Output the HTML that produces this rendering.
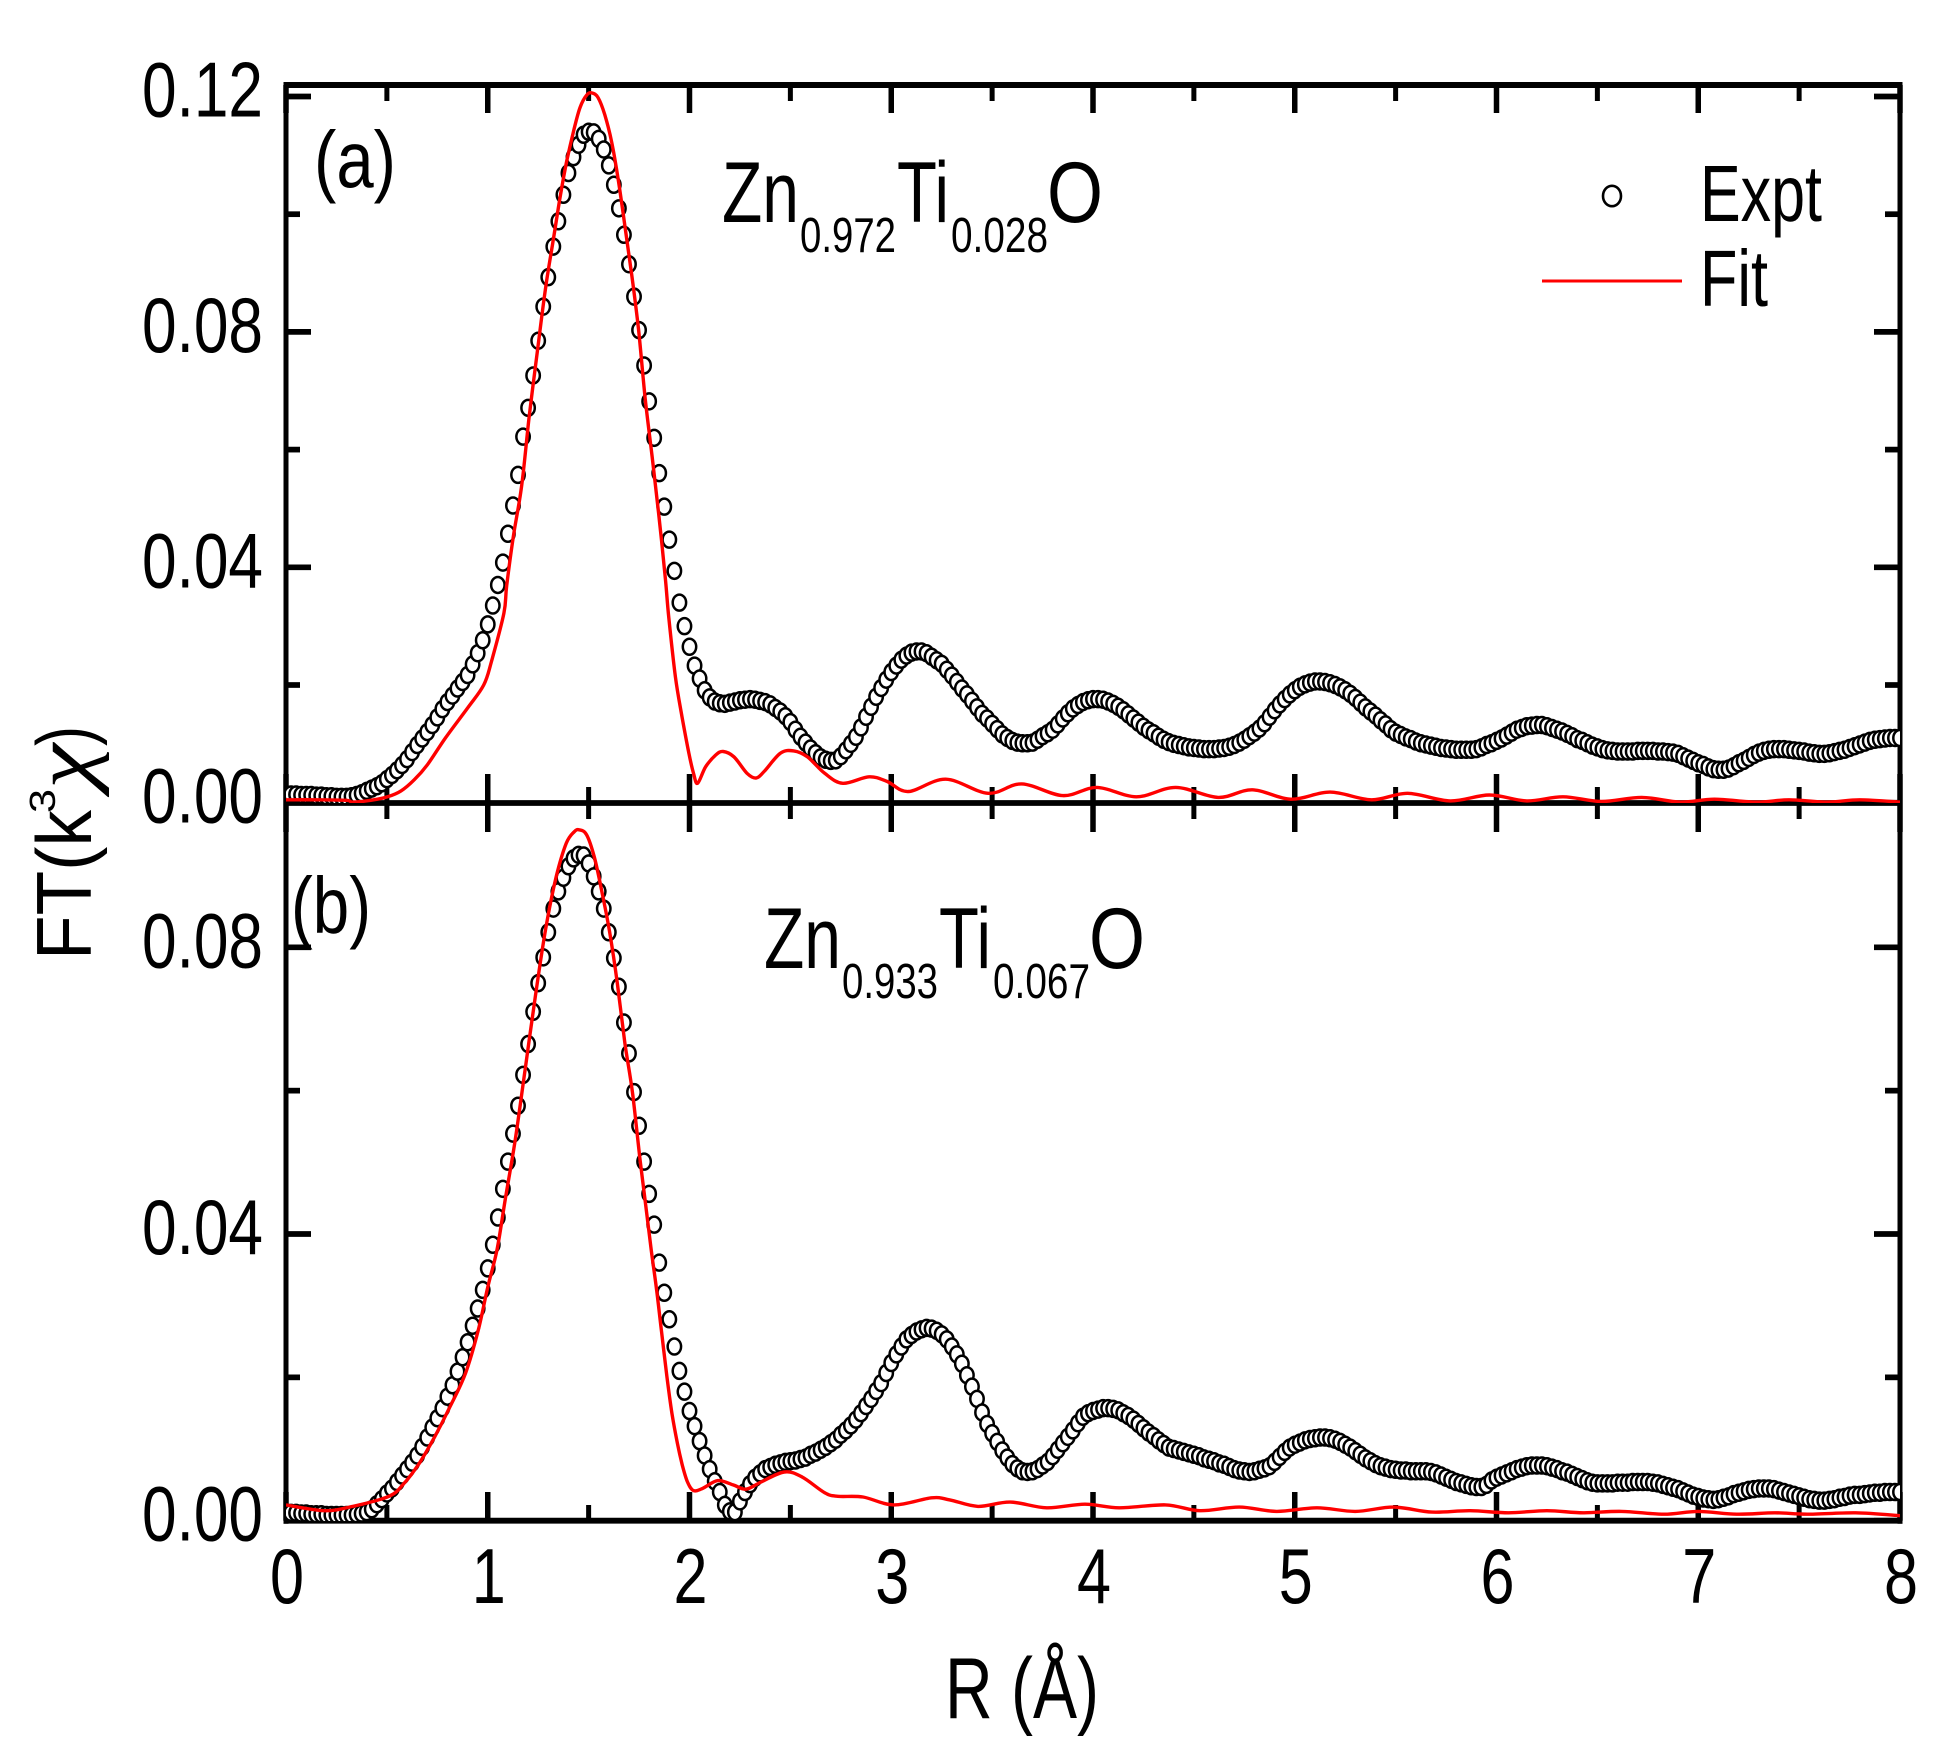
<!DOCTYPE html>
<html lang="en">
<head>
<meta charset="utf-8">
<title>FT(k3χ) vs R for Zn-Ti-O samples</title>
<style>
html,body{margin:0;padding:0;background:#fff;}
svg{display:block;}
text{font-family:"Liberation Sans",Arial,sans-serif;fill:#000;}
</style>
</head>
<body>
<svg id="chart" xmlns="http://www.w3.org/2000/svg" width="1957" height="1756" viewBox="0 0 1957 1756">
  <defs>
    <clipPath id="clip-a"><rect x="286" y="85" width="1614" height="718"/></clipPath>
    <clipPath id="clip-b"><rect x="286" y="803" width="1614" height="718"/></clipPath>
  </defs>
  <rect x="0" y="0" width="1957" height="1756" fill="#fff"/>
  <g id="axes"></g>
  <g id="series-a" clip-path="url(#clip-a)"></g>
  <g id="series-b" clip-path="url(#clip-b)"></g>
  <g id="labels"></g>

  <text x="314" y="187" font-size="80" textLength="82" lengthAdjust="spacingAndGlyphs">(a)</text>
  <text x="291" y="933" font-size="80" textLength="80" lengthAdjust="spacingAndGlyphs">(b)</text>

  <g>
    <text x="722" y="222" font-size="86" textLength="77" lengthAdjust="spacingAndGlyphs">Zn</text>
    <text x="800" y="252" font-size="49" textLength="96" lengthAdjust="spacingAndGlyphs">0.972</text>
    <text x="897" y="222" font-size="86" textLength="52" lengthAdjust="spacingAndGlyphs">Ti</text>
    <text x="951" y="252" font-size="49" textLength="97" lengthAdjust="spacingAndGlyphs">0.028</text>
    <text x="1047" y="222" font-size="86" textLength="56" lengthAdjust="spacingAndGlyphs">O</text>
  </g>
  <g>
    <text x="764" y="968" font-size="86" textLength="77" lengthAdjust="spacingAndGlyphs">Zn</text>
    <text x="842" y="998" font-size="49" textLength="96" lengthAdjust="spacingAndGlyphs">0.933</text>
    <text x="939" y="968" font-size="86" textLength="52" lengthAdjust="spacingAndGlyphs">Ti</text>
    <text x="993" y="998" font-size="49" textLength="97" lengthAdjust="spacingAndGlyphs">0.067</text>
    <text x="1089" y="968" font-size="86" textLength="56" lengthAdjust="spacingAndGlyphs">O</text>
  </g>

  <g>
    <ellipse cx="1612" cy="196" rx="9" ry="10.2" fill="#fff" stroke="#000" stroke-width="2.6"/>
    <text x="1700" y="221" font-size="80" textLength="122" lengthAdjust="spacingAndGlyphs">Expt</text>
    <line x1="1542" y1="281" x2="1682" y2="281" stroke="#f00" stroke-width="3"/>
    <text x="1700" y="306" font-size="80" textLength="68" lengthAdjust="spacingAndGlyphs">Fit</text>
  </g>

  <text x="945" y="1718" font-size="86" textLength="154" lengthAdjust="spacingAndGlyphs">R (Å)</text>

  <g transform="translate(91,960) rotate(-90)">
    <text x="0" y="0" font-size="78" textLength="150" lengthAdjust="spacingAndGlyphs">FT(k</text>
    <text x="147" y="-36" font-size="36" textLength="24" lengthAdjust="spacingAndGlyphs">3</text>
    <text x="171" y="0" font-size="84" textLength="45" lengthAdjust="spacingAndGlyphs" style="font-family:'Liberation Serif',serif;font-style:italic">χ</text>
    <text x="214" y="0" font-size="78" textLength="20" lengthAdjust="spacingAndGlyphs">)</text>
  </g>
</svg>
<script>
// ---------- data ----------
const xStep = 0.025;

const xMajorTicks = [0, 1, 2, 3, 4, 5, 6, 7, 8];
const xMinorTicks = [0.5, 1.5, 2.5, 3.5, 4.5, 5.5, 6.5, 7.5];
const xTickLabels = ["0", "1", "2", "3", "4", "5", "6", "7", "8"];

const yMajorTicksA = [0, 0.04, 0.08, 0.12];
const yMinorTicksA = [0.02, 0.06, 0.10];
const yTickLabelsA = ["0.00", "0.04", "0.08", "0.12"];

const yMajorTicksB = [0, 0.04, 0.08];
const yMinorTicksB = [0.02, 0.06];
const yTickLabelsB = ["0.00", "0.04", "0.08"];

const exptA = [
0.0014,0.0014,0.0014,0.0013,0.0013,0.0013,0.0012,0.0012,0.0011,0.0011,0.0010,0.0010,0.0010,0.0011,0.0013,0.0016,0.0020,0.0024,0.0028,0.0033,0.0040,0.0047,0.0055,0.0064,0.0074,0.0086,0.0098,0.0109,0.0120,0.0132,0.0145,0.0159,0.0171,0.0182,0.0194,0.0205,0.0217,0.0235,0.0254,0.0276,
0.0303,0.0335,0.0370,0.0408,0.0457,0.0505,0.0557,0.0622,0.0671,0.0726,0.0785,0.0843,0.0893,0.0945,0.0988,0.1033,0.1070,0.1097,0.1118,0.1135,0.1140,0.1139,0.1128,0.1110,0.1083,0.1050,0.1010,0.0965,0.0915,0.0860,0.0803,0.0743,0.0682,0.0620,0.0560,0.0503,0.0447,0.0394,0.0340,0.0300,
0.0265,0.0233,0.0211,0.0191,0.0179,0.0172,0.0169,0.0168,0.0170,0.0172,0.0174,0.0175,0.0176,0.0175,0.0173,0.0171,0.0167,0.0161,0.0155,0.0147,0.0137,0.0124,0.0112,0.0102,0.0092,0.0084,0.0077,0.0073,0.0071,0.0072,0.0079,0.0089,0.0100,0.0112,0.0128,0.0146,0.0163,0.0180,0.0195,0.0209,
0.0222,0.0233,0.0243,0.0250,0.0255,0.0257,0.0257,0.0254,0.0248,0.0242,0.0236,0.0226,0.0216,0.0205,0.0194,0.0184,0.0173,0.0162,0.0151,0.0143,0.0134,0.0125,0.0116,0.0110,0.0105,0.0102,0.0101,0.0101,0.0102,0.0107,0.0113,0.0118,0.0124,0.0133,0.0143,0.0152,0.0160,0.0166,0.0171,0.0174,
0.0176,0.0176,0.0175,0.0172,0.0168,0.0163,0.0157,0.0150,0.0143,0.0136,0.0129,0.0123,0.0118,0.0112,0.0107,0.0103,0.0100,0.0098,0.0096,0.0094,0.0093,0.0092,0.0091,0.0091,0.0091,0.0092,0.0093,0.0095,0.0098,0.0102,0.0107,0.0113,0.0119,0.0126,0.0135,0.0146,0.0157,0.0167,0.0176,0.0184,
0.0191,0.0197,0.0201,0.0204,0.0206,0.0206,0.0205,0.0203,0.0200,0.0196,0.0191,0.0185,0.0178,0.0170,0.0162,0.0155,0.0148,0.0140,0.0133,0.0125,0.0119,0.0115,0.0111,0.0108,0.0104,0.0101,0.0099,0.0097,0.0095,0.0093,0.0092,0.0091,0.0090,0.0090,0.0090,0.0090,0.0091,0.0094,0.0098,0.0101,
0.0105,0.0109,0.0114,0.0119,0.0124,0.0127,0.0130,0.0131,0.0132,0.0132,0.0130,0.0127,0.0124,0.0121,0.0117,0.0113,0.0108,0.0105,0.0101,0.0097,0.0094,0.0091,0.0089,0.0088,0.0087,0.0087,0.0087,0.0087,0.0088,0.0088,0.0088,0.0088,0.0087,0.0087,0.0086,0.0085,0.0083,0.0079,0.0075,0.0071,
0.0067,0.0064,0.0060,0.0057,0.0056,0.0056,0.0058,0.0062,0.0067,0.0071,0.0076,0.0081,0.0085,0.0088,0.0090,0.0091,0.0091,0.0091,0.0090,0.0089,0.0088,0.0087,0.0085,0.0084,0.0083,0.0083,0.0084,0.0086,0.0088,0.0090,0.0093,0.0096,0.0099,0.0102,0.0105,0.0107,0.0108,0.0109,0.0110,0.0110,
0.0110];

const exptB = [
0.0011,0.0011,0.0011,0.0010,0.0010,0.0009,0.0009,0.0009,0.0008,0.0008,0.0008,0.0008,0.0008,0.0008,0.0009,0.0010,0.0012,0.0016,0.0023,0.0030,0.0038,0.0045,0.0054,0.0063,0.0072,0.0081,0.0091,0.0103,0.0116,0.0130,0.0143,0.0157,0.0173,0.0189,0.0208,0.0228,0.0249,0.0272,0.0296,0.0322,
0.0352,0.0385,0.0423,0.0463,0.0501,0.0540,0.0579,0.0622,0.0665,0.0710,0.0750,0.0786,0.0821,0.0854,0.0878,0.0897,0.0913,0.0924,0.0929,0.0928,0.0917,0.0899,0.0878,0.0854,0.0821,0.0785,0.0745,0.0695,0.0652,0.0598,0.0551,0.0501,0.0456,0.0413,0.0360,0.0318,0.0281,0.0243,0.0209,0.0180,
0.0153,0.0132,0.0111,0.0091,0.0072,0.0055,0.0040,0.0022,0.0013,0.0012,0.0027,0.0040,0.0051,0.0060,0.0066,0.0072,0.0075,0.0078,0.0080,0.0082,0.0083,0.0084,0.0086,0.0088,0.0092,0.0095,0.0099,0.0103,0.0108,0.0113,0.0120,0.0126,0.0133,0.0141,0.0150,0.0160,0.0170,0.0181,0.0192,0.0206,
0.0220,0.0232,0.0243,0.0253,0.0259,0.0264,0.0267,0.0269,0.0268,0.0265,0.0260,0.0253,0.0243,0.0232,0.0219,0.0203,0.0187,0.0170,0.0151,0.0135,0.0122,0.0110,0.0098,0.0088,0.0079,0.0073,0.0069,0.0068,0.0069,0.0072,0.0077,0.0082,0.0090,0.0099,0.0108,0.0117,0.0126,0.0136,0.0145,0.0150,
0.0153,0.0155,0.0157,0.0157,0.0156,0.0154,0.0150,0.0146,0.0141,0.0135,0.0129,0.0123,0.0118,0.0112,0.0107,0.0102,0.0100,0.0098,0.0096,0.0094,0.0092,0.0090,0.0087,0.0085,0.0083,0.0080,0.0078,0.0075,0.0072,0.0070,0.0069,0.0068,0.0069,0.0071,0.0073,0.0076,0.0082,0.0089,0.0096,0.0102,
0.0106,0.0109,0.0112,0.0114,0.0115,0.0116,0.0116,0.0115,0.0113,0.0110,0.0106,0.0102,0.0097,0.0092,0.0087,0.0083,0.0079,0.0076,0.0074,0.0072,0.0071,0.0070,0.0070,0.0069,0.0069,0.0069,0.0069,0.0068,0.0066,0.0063,0.0060,0.0057,0.0054,0.0052,0.0050,0.0048,0.0047,0.0047,0.0050,0.0056,
0.0060,0.0063,0.0066,0.0069,0.0072,0.0074,0.0076,0.0077,0.0077,0.0077,0.0076,0.0074,0.0072,0.0069,0.0067,0.0064,0.0061,0.0058,0.0055,0.0053,0.0052,0.0052,0.0052,0.0052,0.0053,0.0053,0.0053,0.0054,0.0054,0.0054,0.0054,0.0053,0.0052,0.0050,0.0048,0.0046,0.0044,0.0041,0.0038,0.0035,
0.0033,0.0031,0.0030,0.0029,0.0030,0.0032,0.0034,0.0037,0.0039,0.0041,0.0043,0.0044,0.0045,0.0045,0.0045,0.0044,0.0042,0.0040,0.0038,0.0036,0.0034,0.0032,0.0030,0.0029,0.0028,0.0028,0.0029,0.0030,0.0032,0.0033,0.0035,0.0036,0.0036,0.0037,0.0038,0.0039,0.0039,0.0040,0.0040,0.0040,
0.0040];

const fitAR = [0,0.15,0.3,0.33,0.42,0.503,0.57,0.636,0.70,0.79,0.90,0.98,1.02,1.08,1.094,1.127,1.168,1.205,1.25,1.287,1.327,1.36,1.392,1.426,1.458,1.492,1.517,1.547,1.58,1.614,1.647,1.68,1.714,1.747,1.78,1.814,1.847,1.88,1.897,1.93,1.963,1.997,2.02,2.04,2.08,2.13,2.167,2.22,2.285,2.33,2.37,2.45,2.517,2.584,2.67,2.76,2.89,2.98,3.085,3.27,3.48,3.647,3.85,4.02,4.215,4.41,4.62,4.79,4.98,5.175,5.38,5.56,5.77,5.965,6.15,6.33,6.52,6.72,6.91,7.08,7.29,7.45,7.64,7.80,8];
const fitAValues = [0.0005,0.0005,0.0004,0.0001,0.0004,0.0010,0.0020,0.0039,0.0064,0.0110,0.0161,0.0200,0.0242,0.0322,0.0369,0.0453,0.0538,0.0655,0.0778,0.0876,0.0961,0.1032,0.1091,0.1142,0.1182,0.1203,0.1206,0.1198,0.1169,0.1123,0.1058,0.0980,0.0896,0.0805,0.0688,0.0590,0.0492,0.0382,0.0316,0.0214,0.0146,0.0084,0.0050,0.0033,0.0061,0.0081,0.0087,0.0078,0.0050,0.0042,0.0053,0.0084,0.0088,0.0078,0.0050,0.0033,0.0044,0.0036,0.0019,0.0040,0.0016,0.0032,0.0012,0.0026,0.0010,0.0026,0.0009,0.0022,0.0006,0.0018,0.0005,0.0016,0.0003,0.0013,0.0003,0.0010,0.0002,0.0009,0.0001,0.0006,0.0001,0.0005,0.0001,0.0005,0.0001];

const fitBR = [0,0.19,0.33,0.51,0.585,0.66,0.737,0.813,0.89,0.953,1.0,1.046,1.086,1.136,1.187,1.238,1.289,1.34,1.389,1.428,1.453,1.49,1.528,1.567,1.605,1.642,1.68,1.718,1.755,1.78,1.81,1.837,1.862,1.888,1.913,1.94,1.964,1.99,2.02,2.065,2.14,2.216,2.28,2.355,2.47,2.558,2.67,2.735,2.86,3.014,3.2,3.29,3.43,3.59,3.77,3.96,4.13,4.36,4.53,4.725,4.91,5.11,5.3,5.49,5.68,5.87,6.06,6.25,6.43,6.62,6.83,7.0,7.19,7.38,7.54,7.78,8];
const fitBValues = [0.0022,0.0014,0.0020,0.0034,0.0052,0.0080,0.0117,0.0159,0.0206,0.0266,0.0326,0.0378,0.0447,0.0531,0.0633,0.0736,0.0829,0.0899,0.0945,0.0961,0.0964,0.0957,0.0926,0.0876,0.0820,0.0750,0.0666,0.0596,0.0503,0.0447,0.0378,0.0322,0.0262,0.0201,0.0150,0.0108,0.0078,0.0054,0.0042,0.0045,0.0056,0.0050,0.0044,0.0054,0.0068,0.0061,0.0039,0.0034,0.0033,0.0022,0.0032,0.0029,0.0020,0.0026,0.0018,0.0023,0.0018,0.0022,0.0014,0.0019,0.0013,0.0018,0.0013,0.0019,0.0012,0.0014,0.0011,0.0014,0.0011,0.0013,0.0009,0.0013,0.0009,0.0011,0.0009,0.0011,0.0007];

// ---------- axis functions ----------
const SVG_NS = "http://www.w3.org/2000/svg";
function xScale(r) { return 286 + r * 201.75; }
function yScaleA(v) { return 802.7 - v * 5885; }
function yScaleB(v) { return 1520.7 - v * 7167.5; }

function makeLine(parent, x1, y1, x2, y2, width) {
  const el = document.createElementNS(SVG_NS, "line");
  el.setAttribute("x1", x1);
  el.setAttribute("y1", y1);
  el.setAttribute("x2", x2);
  el.setAttribute("y2", y2);
  el.setAttribute("stroke", "#000");
  el.setAttribute("stroke-width", width);
  parent.appendChild(el);
  return el;
}

function makeLabel(parent, str, x, y, len) {
  const el = document.createElementNS(SVG_NS, "text");
  el.setAttribute("x", x);
  el.setAttribute("y", y);
  el.setAttribute("font-size", "78");
  el.setAttribute("textLength", len);
  el.setAttribute("lengthAdjust", "spacingAndGlyphs");
  el.textContent = str;
  parent.appendChild(el);
  return el;
}

const axesG = document.getElementById("axes");
const labelsG = document.getElementById("labels");
const LEFT = 286, RIGHT = 1900, TOP = 85, MID = 803, BOTTOM = 1520.7;

// x ticks
xMajorTicks.forEach(function (r) {
  const x = xScale(r);
  const t1 = makeLine(axesG, x, TOP, x, 113, 5.5);
  
  
  const t2 = makeLine(axesG, x, 774, x, 832, 5.5);
  
  
  const t3 = makeLine(axesG, x, 1492, x, BOTTOM, 5.5);
  
  
});
xMinorTicks.forEach(function (r) {
  const x = xScale(r);
  const t1 = makeLine(axesG, x, TOP, x, 101, 5);
  
  
  const t2 = makeLine(axesG, x, 787, x, 819, 5);
  
  
  const t3 = makeLine(axesG, x, 1505, x, BOTTOM, 5);
  
  
});

// y ticks
function drawYTicks(ticks, scale, leftEnd, rightStart, width, name) {
  ticks.forEach(function (v) {
    const y = scale(v);
    const a = makeLine(axesG, LEFT, y, leftEnd, y, width);
    
    
    const b = makeLine(axesG, rightStart, y, RIGHT, y, width);
    
    
  });
}
drawYTicks(yMajorTicksA, yScaleA, 311, 1874, 5.7, 'panel-a-y-major-tick');
drawYTicks(yMinorTicksA, yScaleA, 300, 1885, 5.7, 'panel-a-y-minor-tick');
drawYTicks(yMajorTicksB, yScaleB, 311, 1874, 5.7, 'panel-b-y-major-tick');
drawYTicks(yMinorTicksB, yScaleB, 300, 1885, 5.7, 'panel-b-y-minor-tick');

// frame
const frameTop = makeLine(axesG, LEFT - 2.5, TOP, RIGHT + 2.5, TOP, 6);


const frameMid = makeLine(axesG, LEFT - 2.5, MID, RIGHT + 2.5, MID, 5.8);


const frameBottom = makeLine(axesG, LEFT - 2.5, BOTTOM, RIGHT + 2.5, BOTTOM, 5.8);


const frameLeft = makeLine(axesG, LEFT, TOP - 3, LEFT, BOTTOM + 3, 5);


const frameRight = makeLine(axesG, RIGHT, TOP - 3, RIGHT, BOTTOM + 3, 5);



// tick labels
xMajorTicks.forEach(function (r, i) {
  const el = makeLabel(labelsG, xTickLabels[i], xScale(r) - 16, 1603, 34);
  
  
});
yMajorTicksA.forEach(function (v, i) {
  const el = makeLabel(labelsG, yTickLabelsA[i], 142, yScaleA(v) + 20, 121);
  
  
});
yMajorTicksB.forEach(function (v, i) {
  const el = makeLabel(labelsG, yTickLabelsB[i], 142, yScaleB(v) + 20, 121);
  
  
});

// series
function drawExpt(parent, values, scale, name) {
  values.forEach(function (v, i) {
    const el = document.createElementNS(SVG_NS, "ellipse");
    el.setAttribute("cx", xScale(i * xStep));
    el.setAttribute("cy", scale(v));
    el.setAttribute("rx", 6.7);
    el.setAttribute("ry", 8);
    el.setAttribute("fill", "#fff");
    el.setAttribute("stroke", "#000");
    el.setAttribute("stroke-width", 2.5);
    
    
    parent.appendChild(el);
  });
}
function drawFit(parent, rs, values, scale, name) {
  const px = rs.map(xScale);
  const py = values.map(scale);
  let d = "M" + px[0].toFixed(1) + " " + py[0].toFixed(1);
  for (let i = 0; i < px.length - 1; i++) {
    const a = Math.max(i - 1, 0), b = Math.min(i + 2, px.length - 1);
    const c1x = px[i] + (px[i + 1] - px[a]) / 6;
    const c1y = py[i] + (py[i + 1] - py[a]) / 6;
    const c2x = px[i + 1] - (px[b] - px[i]) / 6;
    const c2y = py[i + 1] - (py[b] - py[i]) / 6;
    d += "C" + c1x.toFixed(1) + " " + c1y.toFixed(1) + " " + c2x.toFixed(1) + " " + c2y.toFixed(1) + " " + px[i + 1].toFixed(1) + " " + py[i + 1].toFixed(1);
  }
  const el = document.createElementNS(SVG_NS, "path");
  el.setAttribute("d", d);
  el.setAttribute("fill", "none");
  el.setAttribute("stroke", "#f00");
  el.setAttribute("stroke-width", 3.4);
  el.setAttribute("stroke-linejoin", "round");
  
  
  parent.appendChild(el);
}
const seriesA = document.getElementById("series-a");
const seriesB = document.getElementById("series-b");
drawExpt(seriesA, exptA, yScaleA, 'panel-a-expt-point');
drawFit(seriesA, fitAR, fitAValues, yScaleA, 'panel-a-fit-line');
drawExpt(seriesB, exptB, yScaleB, 'panel-b-expt-point');
drawFit(seriesB, fitBR, fitBValues, yScaleB, 'panel-b-fit-line');
</script>
</body>
</html>
